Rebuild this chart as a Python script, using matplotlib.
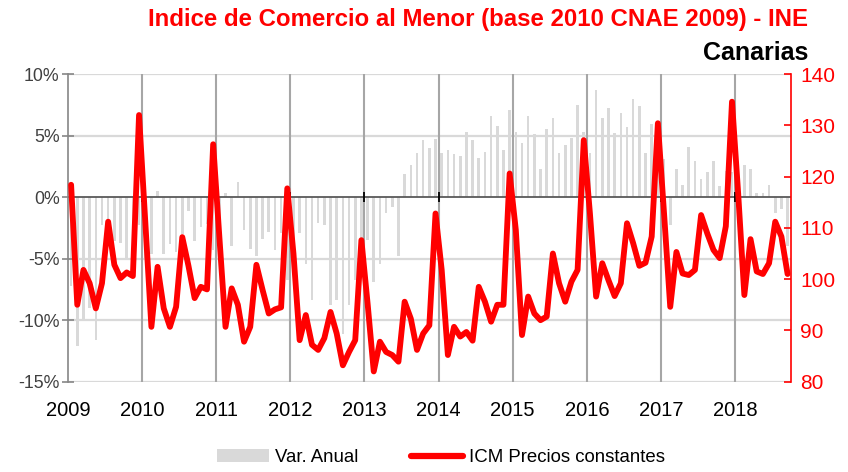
import numpy as np
import matplotlib
matplotlib.use("Agg")
import matplotlib.pyplot as plt
from matplotlib.patches import Patch
from matplotlib.lines import Line2D

plt.rcParams["font.family"] = ["Liberation Sans", "DejaVu Sans"]

# monthly data, Jan 2009 .. Sep 2018
years = ["2009", "2010", "2011", "2012", "2013", "2014", "2015", "2016", "2017", "2018"]

# Var. Anual (%)
var_anual = [
    -7.2, -12.1, -10.1, -9.0, -11.6, -2.3, -2.5, -3.6, -3.7, -5.1, -4.0, -2.3,   # 2009
    -5.0, -4.6, 0.5, -4.6, -3.8, -4.5, -3.0, -1.1, -3.6, -2.4, -2.2, -4.3,       # 2010
    -3.5, 0.3, -4.0, 1.2, -2.7, -4.2, -4.8, -3.4, -2.8, -4.3, -2.9, -6.7,        # 2011
    -4.0, -2.9, -5.4, -8.4, -2.1, -2.3, -8.8, -8.4, -11.1, -8.8, -6.7, -5.0,     # 2012
    -3.5, -6.9, -5.4, -1.3, -0.8, -4.8, 1.9, 2.6, 3.6, 4.6, 4.0, 4.7,            # 2013
    3.6, 3.8, 3.5, 3.3, 5.3, 4.6, 3.2, 3.7, 6.6, 5.8, 3.8, 7.1,                  # 2014
    5.3, 4.4, 6.6, 5.1, 2.3, 5.5, 6.4, 3.6, 4.2, 4.8, 7.5, 5.3,                  # 2015
    3.6, 8.7, 6.4, 7.2, 5.2, 6.8, 5.7, 8.0, 7.4, 3.6, 5.9, 5.0,                  # 2016
    3.1, -2.3, 2.3, 1.0, 4.1, 2.9, 1.5, 2.0, 2.9, 0.9, 2.1, 2.0,                 # 2017
    1.0, 2.6, 2.3, 0.35, 0.3, 1.0, -1.3, -0.95, -4.0,                            # 2018
]

# ICM precios constantes (indice, eje derecho)
icm = [
    118.4, 95.0, 101.8, 99.2, 94.3, 99.2, 111.2, 102.8, 100.2, 101.3, 100.6, 132.0,   # 2009
    111.4, 90.7, 102.4, 94.3, 90.7, 94.6, 108.2, 102.6, 96.3, 98.5, 98.0, 126.3,      # 2010
    108.3, 90.7, 98.2, 95.0, 87.8, 90.7, 102.8, 97.9, 93.3, 94.1, 94.5, 117.7,        # 2011
    105.0, 88.1, 93.0, 87.2, 86.2, 88.5, 93.6, 89.4, 83.2, 85.8, 88.1, 107.6,         # 2012
    95.3, 82.0, 87.8, 85.8, 85.2, 83.9, 95.6, 92.3, 86.2, 89.4, 91.0, 112.8,          # 2013
    101.8, 85.2, 90.7, 88.8, 89.7, 88.0, 98.5, 95.6, 91.7, 95.0, 95.0, 120.6,         # 2014
    109.6, 89.1, 96.6, 93.3, 92.0, 92.7, 105.0, 99.2, 95.6, 99.5, 101.8, 127.1,       # 2015
    112.8, 96.6, 103.1, 99.8, 96.7, 99.2, 110.9, 107.0, 102.6, 103.2, 108.3, 130.4,   # 2016
    112.8, 94.6, 105.3, 101.1, 100.8, 101.8, 112.5, 108.9, 105.7, 104.1, 110.3, 134.6,  # 2017
    116.7, 96.9, 107.8, 101.5, 101.0, 103.1, 111.2, 108.3, 101.0,                     # 2018
]

pct_ticks = [-15, -10, -5, 0, 5, 10]
idx_ticks = [80, 90, 100, 110, 120, 130, 140]

RED = "#ff0000"
BAR = "#d9d9d9"

x = np.arange(len(icm))
year_pos = np.arange(len(years)) * 12 - 0.5

fig = plt.figure(figsize=(8.48, 4.72), dpi=100)
ax = fig.add_axes([0.0802, 0.1913, 0.8522, 0.6519])

for v in pct_ticks:
    if v != 0:
        ax.axhline(v, color="#d9d9d9", lw=1.6, zorder=0)
for p in year_pos[1:]:
    ax.axvline(p, color="#a6a6a6", lw=1.5, zorder=0)

ax.bar(x, var_anual, width=0.42, color=BAR, zorder=1)
ax.axhline(0, color="#595959", lw=1.3, zorder=2)
ax.plot(year_pos[1:], np.zeros(len(years) - 1), ls="none", marker="|",
        ms=7, mew=1.3, color="black", zorder=2)

ax.set_xlim(-0.5, len(icm) - 0.5)
ax.set_ylim(-15, 10)
ax.set_yticks(pct_ticks)
ax.set_yticklabels([f"{v}%" for v in pct_ticks])
ax.set_xticks(year_pos)
ax.set_xticklabels(years)
ax.tick_params(axis="x", length=0, pad=14, labelsize=14.5, colors="black")
ax.tick_params(axis="y", direction="inout", length=8, width=1.2, color="#868686",
               labelcolor="#404040", labelsize=12.8, pad=2)
for s in ("top", "bottom", "right"):
    ax.spines[s].set_visible(False)
ax.spines["left"].set_color("#868686")
ax.spines["left"].set_linewidth(1.2)

ax2 = ax.twinx()
ax2.plot(x, icm, color=RED, lw=4.2, solid_joinstyle="round",
         solid_capstyle="round", zorder=3)
ax2.set_ylim(80, 140)
ax2.set_yticks(idx_ticks)
ax2.tick_params(axis="y", direction="in", length=5, width=1.2, color=RED,
                labelcolor=RED, labelsize=15, pad=7)
for s in ("top", "bottom", "left"):
    ax2.spines[s].set_visible(False)
ax2.spines["right"].set_color(RED)
ax2.spines["right"].set_linewidth(1.2)

fig.text(0.953, 0.958, "Indice de Comercio al Menor (base 2010 CNAE 2009) - INE",
         ha="right", va="center", color=RED, fontsize=17.3, fontweight="bold")
fig.text(0.953, 0.888, "Canarias", ha="right", va="center", color="black",
         fontsize=18, fontweight="bold")

handles = [Patch(facecolor=BAR, edgecolor="none"),
           Line2D([0], [0], color=RED, lw=4.5, solid_capstyle="round")]
fig.legend(handles, ["Var. Anual", "ICM Precios constantes"], loc="center",
           bbox_to_anchor=(0.52, 0.03), ncol=2, frameon=False, fontsize=13.4,
           handlelength=2.8, handletextpad=0.35, columnspacing=2.8)

fig.savefig("out.png", dpi=100)
